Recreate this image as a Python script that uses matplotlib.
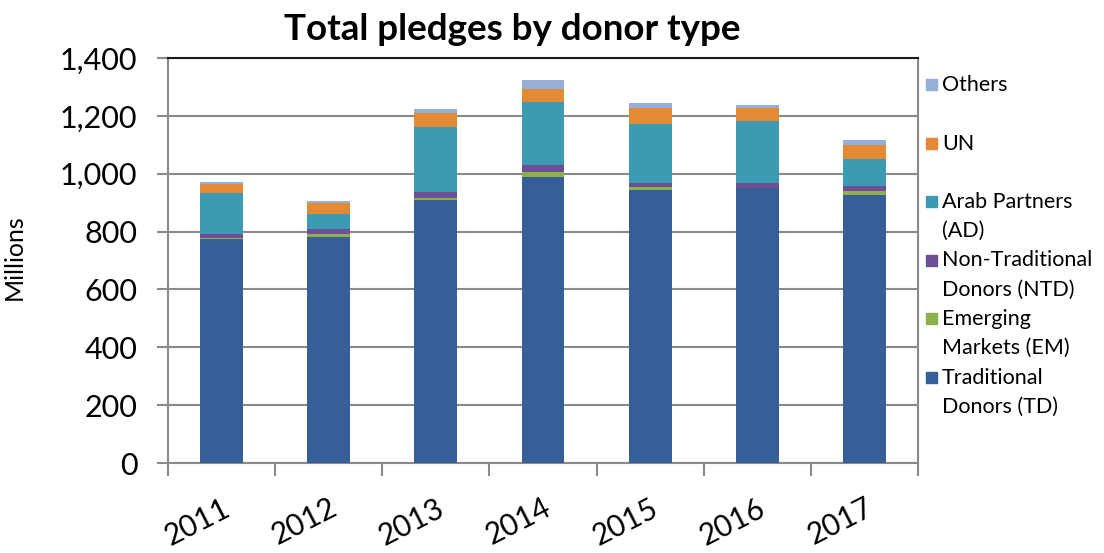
import matplotlib
matplotlib.use("Agg")
import matplotlib.pyplot as plt
import numpy as np
from matplotlib.patches import Rectangle
from matplotlib.ticker import FuncFormatter

plt.rcParams["font.family"] = ["Lato", "DejaVu Sans"]

years = ["2011", "2012", "2013", "2014", "2015", "2016", "2017"]

# pledges in millions, stacked bottom to top
traditional = [775, 780, 910, 990, 944, 950, 928]
emerging = [2, 12, 7, 15, 9, 2, 11]
non_traditional = [15, 17, 20, 24, 16, 17, 17]
arab_partners = [140, 51, 226, 220, 203, 214, 94]
un = [34, 38, 48, 43, 54, 43, 49]
others = [7, 9, 12, 32, 20, 12, 18]

series = [
    ("Traditional\nDonors (TD)", traditional, "#365f97"),
    ("Emerging\nMarkets (EM)", emerging, "#8db04a"),
    ("Non-Traditional\nDonors (NTD)", non_traditional, "#6e4f96"),
    ("Arab Partners\n(AD)", arab_partners, "#3d9ab3"),
    ("UN", un, "#e38a35"),
    ("Others", others, "#95afd9"),
]

fig = plt.figure(figsize=(11.04, 5.53), dpi=100)
ax = fig.add_axes([0.1522, 0.1627, 0.8315 - 0.1522, 0.8951 - 0.1627])

x = np.arange(len(years))
bottom = np.zeros(len(years))
for label, vals, color in series:
    ax.bar(x, vals, width=0.4, bottom=bottom, color=color, zorder=3)
    bottom += np.array(vals)

ax.set_xlim(-0.5, len(years) - 0.5)
ax.set_ylim(0, 1400)
ax.set_yticks(np.arange(0, 1401, 200))
ax.yaxis.set_major_formatter(FuncFormatter(lambda v, p: f"{int(v):,}"))
ax.grid(axis="y", color="#8a8a8a", linewidth=1.5, zorder=0)

# year labels at bar centres, tick marks between categories
ax.set_xticks(x)
ax.set_xticklabels(years, rotation=27, ha="right", rotation_mode="anchor",
                   fontsize=21.5)
ax.tick_params(axis="x", which="major", length=0, pad=22)
ax.set_xticks(np.arange(-0.5, len(years)), minor=True)
ax.tick_params(axis="x", which="minor", length=9, width=1.5, color="#8a8a8a")
ax.tick_params(axis="y", length=8, width=1.5, color="#8a8a8a", pad=14,
               labelsize=22)

for side in ["left", "right", "bottom"]:
    ax.spines[side].set_color("#8a8a8a")
    ax.spines[side].set_linewidth(1.5)
ax.spines["top"].set_color("#1a1a1a")
ax.spines["top"].set_linewidth(1.5)

ax.set_ylabel("Millions", fontsize=18)
ax.yaxis.set_label_coords(-0.19, 0.508)

fig.text(512 / 1104, 1 - 30 / 553, "Total pledges by donor type",
         fontsize=26.5, fontweight="bold", ha="center", va="center")

# legend drawn by hand: one entry every 58 px, top entry first
W, H = 1104, 553
line_h = 29
for i, (label, vals, color) in enumerate(reversed(series)):
    y_px = 85 + i * 58.5
    fig.patches.append(Rectangle(((926) / W, 1 - (y_px + 5) / H), 11 / W, 11 / H,
                                 transform=fig.transFigure, color=color))
    for j, part in enumerate(label.split("\n")):
        fig.text(942 / W, 1 - (y_px + j * line_h) / H, part, fontsize=15.5,
                 ha="left", va="center")

fig.savefig("out.png", dpi=100)
